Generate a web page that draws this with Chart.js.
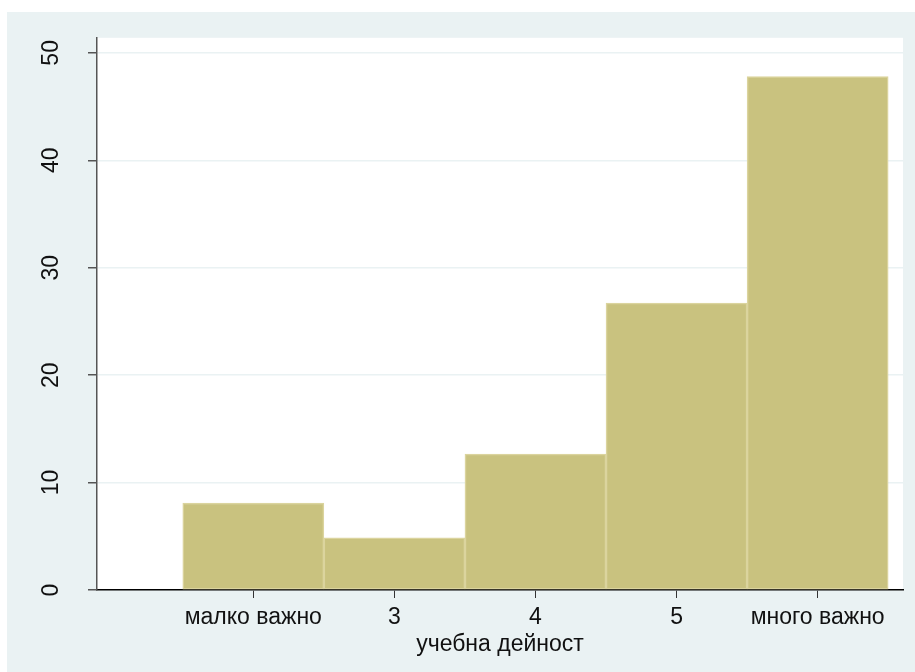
<!DOCTYPE html>
<html>
<head>
<meta charset="utf-8">
<script src="https://cdn.jsdelivr.net/npm/chart.js@4/dist/chart.umd.min.js"></script>
<style>
  body { margin: 0; background: #fff; }
  #wrap { width: 915px; height: 672px; position: relative; }
</style>
</head>
<body>
<div id="wrap"><canvas id="hist"></canvas></div>
<script>
// histogram of "учебна дейност" (percent)
var xValues = [2, 3, 4, 5, 6];
var xLabels = ['малко важно', '3', '4', '5', 'много важно'];
var percents = [8.1, 4.85, 12.65, 26.7, 47.8];
var yTicks = [0, 10, 20, 30, 40, 50];

var bgColor = '#EAF2F3';
var barFill = '#C9C27F';
var barEdge = '#DBD49E';
var fontFamily = '"Liberation Sans", Arial, sans-serif';

var backdrop = {
    id: 'backdrop',
    beforeDraw: function (chart) {
        var ctx = chart.ctx;
        var a = chart.chartArea;
        ctx.save();
        ctx.fillStyle = '#ffffff';
        ctx.fillRect(0, 0, chart.width, chart.height);
        ctx.fillStyle = bgColor;
        ctx.fillRect(7, 12, chart.width - 7, chart.height - 12);
        ctx.fillStyle = '#ffffff';
        ctx.fillRect(a.left, a.top, a.right - a.left, a.bottom - a.top);
        ctx.restore();
    }
};

var points = xValues.map(function (v, i) { return { x: v, y: percents[i] }; });

let histChart = new Chart(document.getElementById('hist'), {
    type: 'bar',
    data: {
        datasets: [{
            data: points,
            backgroundColor: barFill,
            borderColor: barEdge,
            borderWidth: 1.5,
            borderSkipped: false,
            barPercentage: 1,
            categoryPercentage: 1
        }]
    },
    options: {
        responsive: true,
        maintainAspectRatio: false,
        animation: false,
        layout: { padding: { top: 36, right: 12, left: 0, bottom: 0 } },
        plugins: {
            legend: { display: false },
            tooltip: { enabled: false }
        },
        scales: {
            x: {
                type: 'linear',
                offset: false,
                min: 0.892,
                max: 6.605,
                afterBuildTicks: function (scale) {
                    scale.ticks = xValues.map(function (v) { return { value: v }; });
                },
                afterFit: function (scale) { scale.height = 82; },
                ticks: {
                    autoSkip: false,
                    maxRotation: 0,
                    padding: 6,
                    color: '#111',
                    font: { family: fontFamily, size: 23 },
                    callback: function (value, index) { return xLabels[index]; }
                },
                grid: {
                    drawOnChartArea: false,
                    tickLength: 8,
                    tickColor: '#333',
                    offset: false
                },
                border: { color: '#000', width: 1.5 },
                title: {
                    display: true,
                    text: 'учебна дейност',
                    color: '#111',
                    font: { family: fontFamily, size: 23 },
                    padding: { top: 0, bottom: 14 }
                }
            },
            y: {
                min: 0,
                max: 51.4,
                afterBuildTicks: function (scale) {
                    scale.ticks = yTicks.map(function (v) { return { value: v }; });
                },
                afterFit: function (scale) { scale.width = 97; },
                ticks: {
                    minRotation: 90,
                    maxRotation: 90,
                    crossAlign: 'center',
                    padding: 24,
                    color: '#111',
                    font: { family: fontFamily, size: 23 }
                },
                grid: {
                    color: bgColor,
                    lineWidth: 1.5,
                    tickLength: 9,
                    tickColor: '#555'
                },
                border: { color: '#555', width: 1.5 }
            }
        }
    },
    plugins: [backdrop]
});
</script>
</body>
</html>
